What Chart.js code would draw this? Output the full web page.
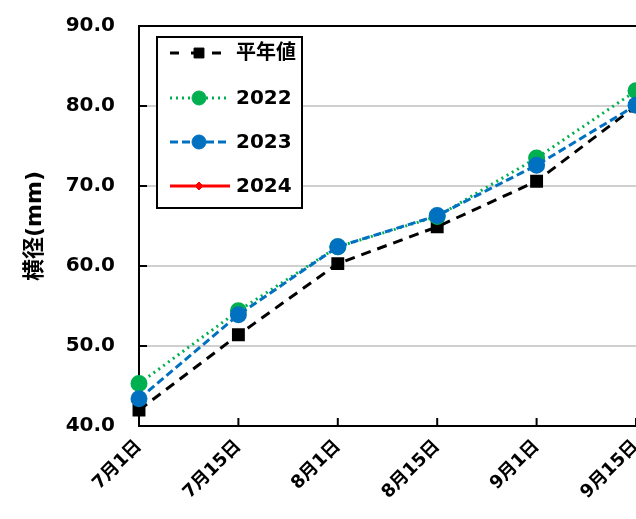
<!DOCTYPE html>
<html lang="ja">
<head>
<meta charset="UTF-8">
<title>横径の推移</title>
<script src="https://cdn.jsdelivr.net/npm/chart.js"></script>
<style>
  html, body { margin: 0; padding: 0; background: #fff; }
  .wrap { width: 636px; height: 519px; }
</style>
</head>
<body>
<div class="wrap"><canvas id="c" width="636" height="519"></canvas></div>
<script>
// data
var dates = ['7月1日', '7月15日', '8月1日', '8月15日', '9月1日', '9月15日'];
var normal = [42.0, 51.4, 60.3, 64.9, 70.6, 80.0];
var y2022 = [45.3, 54.4, 62.4, 66.2, 73.5, 81.9];
var y2023 = [43.4, 53.9, 62.4, 66.3, 72.6, 80.1];
var y2024 = [null, null, null, null, null, null];
var yTicks = [40, 50, 60, 70, 80, 90];

var FONT = '"DejaVu Sans", "Noto Sans CJK JP", sans-serif';

// ticks drawn inward from the axis lines, like the original
var innerTicks = {
    id: 'innerTicks',
    afterDraw: function(chart) {
        var ctx = chart.ctx, a = chart.chartArea;
        var xs = chart.scales.x, ys = chart.scales.y;
        ctx.save();
        ctx.strokeStyle = '#000';
        ctx.lineWidth = 2;
        ctx.beginPath();
        yTicks.forEach(function(v) {
            var y = ys.getPixelForValue(v);
            ctx.moveTo(a.left, y);
            ctx.lineTo(a.left + 8, y);
        });
        dates.forEach(function(d, i) {
            var x = xs.getPixelForValue(i);
            ctx.moveTo(x, a.bottom);
            ctx.lineTo(x, a.bottom - 8);
        });
        ctx.stroke();
        ctx.restore();
    }
};

// boxed legend inside the plot, samples use each dataset's own style
var boxLegend = {
    id: 'boxLegend',
    afterDraw: function(chart) {
        var ctx = chart.ctx;
        var left = 157, top = 37, w = 145, h = 171;
        var rows = [53, 98, 142, 186];
        ctx.save();
        ctx.fillStyle = '#fff';
        ctx.fillRect(left, top, w, h);
        ctx.strokeStyle = '#000';
        ctx.lineWidth = 2;
        ctx.strokeRect(left, top, w, h);
        chart.data.datasets.forEach(function(ds, i) {
            var y = rows[i];
            ctx.strokeStyle = ds.borderColor;
            ctx.lineWidth = ds.borderWidth;
            ctx.setLineDash(ds.legendDash || ds.borderDash || []);
            ctx.beginPath();
            ctx.moveTo(170, y);
            ctx.lineTo(230, y);
            ctx.stroke();
            ctx.setLineDash([]);
            ctx.fillStyle = ds.pointBackgroundColor;
            ctx.strokeStyle = ds.pointBorderColor;
            ctx.lineWidth = 1;
            Chart.helpers.drawPoint(ctx, { pointStyle: ds.pointStyle, radius: ds.pointRadius, rotation: 0, borderWidth: 1 }, 199, y);
            ctx.fillStyle = '#000';
            ctx.font = 'bold 20px ' + FONT;
            ctx.textBaseline = 'middle';
            ctx.textAlign = 'left';
            ctx.fillText(ds.label, 236, y + 1);
        });
        ctx.restore();
    }
};

new Chart(document.getElementById('c'), {
    type: 'line',
    data: {
        labels: dates,
        datasets: [
            { label: '平年値', data: normal, borderColor: '#000', borderWidth: 3, borderDash: [10, 7], legendDash: [9, 12],
              pointStyle: 'rect', pointRadius: 7, pointBackgroundColor: '#000', pointBorderColor: '#000', order: 4 },
            { label: '2022', data: y2022, borderColor: '#00B050', borderWidth: 3, borderDash: [2, 4],
              pointStyle: 'circle', pointRadius: 7, pointBackgroundColor: '#00B050', pointBorderColor: '#00B050', order: 3 },
            { label: '2023', data: y2023, borderColor: '#0070C0', borderWidth: 3, borderDash: [8, 4],
              pointStyle: 'circle', pointRadius: 7, pointBackgroundColor: '#0070C0', pointBorderColor: '#0070C0', order: 2 },
            { label: '2024', data: y2024, borderColor: '#FF0000', borderWidth: 3,
              pointStyle: 'rectRot', pointRadius: 4, pointBackgroundColor: '#FF0000', pointBorderColor: '#FF0000', order: 1 }
        ]
    },
    options: {
        responsive: false,
        animation: false,
        layout: { autoPadding: false, padding: { top: 26, right: 0, left: 0, bottom: 0 } },
        plugins: { legend: { display: false }, tooltip: { enabled: false } },
        scales: {
            x: {
                offset: false,
                grid: { display: false, drawTicks: false },
                border: { color: '#000', width: 2 },
                ticks: {
                    color: '#000', maxRotation: 45, minRotation: 45, padding: 10,
                    font: { family: FONT, size: 18, weight: 'bold' }
                },
                afterFit: function(s) { s.height = 93; s.paddingLeft = 0; s.paddingRight = 0; }
            },
            y: {
                min: 40, max: 90,
                afterBuildTicks: function(s) { s.ticks = yTicks.map(function(v) { return { value: v }; }); },
                grid: { color: function(c) { return c.tick.value === 90 ? '#000' : '#d0d0d0'; }, lineWidth: 2, drawTicks: false },
                border: { color: '#000', width: 2 },
                ticks: {
                    color: '#000', padding: 24,
                    font: { family: FONT, size: 20, weight: 'bold' },
                    callback: function(v) { return Number(v).toFixed(1); }
                },
                title: {
                    display: true, text: '横径(mm)', color: '#000', padding: { top: 22, bottom: 0 },
                    font: { family: FONT, size: 22, weight: 'bold' }
                },
                afterFit: function(s) { s.width = 139; s.paddingTop = 0; s.paddingBottom = 0; }
            }
        }
    },
    plugins: [innerTicks, boxLegend]
});
</script>
</body>
</html>
